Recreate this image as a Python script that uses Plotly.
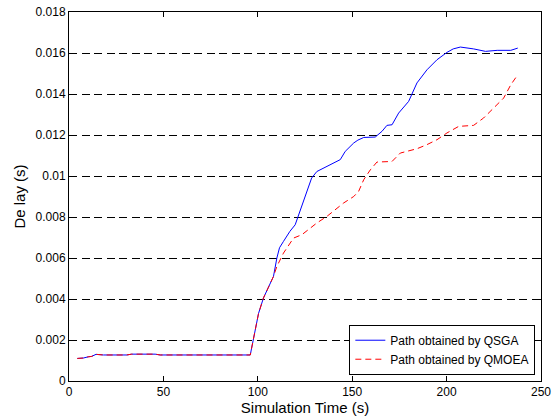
import plotly.graph_objects as go

# Delay of the path found by each algorithm over the simulation run
qsga_time = [4.4, 7.6, 10.2, 12.0, 14.3, 18.2, 30.6, 33.2, 45.6, 48.3, 96.0,
             100.4, 103.0, 108.3, 110.1, 111.5, 113.6, 117.0, 119.8, 122.5,
             126.0, 128.5, 131.3, 134.0, 138.4, 143.7, 146.3, 150.8, 153.0,
             156.1, 162.2, 165.8, 168.4, 171.1, 174.6, 179.9, 184.3, 189.6,
             194.9, 200.2, 203.5, 207.3, 214.3, 220.6, 226.8, 234.0, 237.7]
qsga_delay = [0.00110, 0.00112, 0.00118, 0.00120, 0.00130, 0.00127, 0.00127,
              0.00131, 0.00131, 0.00127, 0.00127, 0.00330, 0.00405, 0.00510,
              0.00600, 0.00650, 0.00681, 0.00730, 0.00762, 0.00836, 0.00933,
              0.00990, 0.01022, 0.01035, 0.01055, 0.01080, 0.01120, 0.01161,
              0.01175, 0.01188, 0.01190, 0.01218, 0.01247, 0.01250, 0.01307,
              0.01364, 0.01454, 0.01518, 0.01567, 0.01603, 0.01620, 0.01629,
              0.01620, 0.01608, 0.01613, 0.01613, 0.01624]

qmoea_time = [4.4, 7.6, 10.2, 12.0, 14.3, 18.2, 30.6, 33.2, 45.6, 48.3, 96.0,
              100.4, 103.0, 108.3, 110.1, 113.6, 118.9, 123.4, 131.3, 136.6,
              145.4, 150.8, 153.4, 156.1, 159.6, 163.1, 171.1, 175.5, 184.3,
              189.6, 194.9, 200.2, 206.4, 214.3, 219.6, 224.9, 230.2, 234.0,
              237.7]
qmoea_delay = [0.00110, 0.00112, 0.00118, 0.00120, 0.00130, 0.00127, 0.00127,
               0.00131, 0.00131, 0.00127, 0.00127, 0.00330, 0.00405, 0.00510,
               0.00559, 0.00624, 0.00697, 0.00714, 0.00771, 0.00803, 0.00868,
               0.00900, 0.00925, 0.00982, 0.01030, 0.01068, 0.01071, 0.01112,
               0.01133, 0.01153, 0.01177, 0.01210, 0.01242, 0.01247, 0.01283,
               0.01332, 0.01380, 0.01445, 0.01494]

x_ticks = [0, 50, 100, 150, 200, 250]
y_ticks = [0, 0.002, 0.004, 0.006, 0.008, 0.01, 0.012, 0.014, 0.016, 0.018]
y_tick_text = ["0", "0.002", "0.004", "0.006", "0.008", "0.01", "0.012",
               "0.014", "0.016", "0.018"]

FONT = "Liberation Sans, Arial, sans-serif"

fig = go.Figure()
fig.add_trace(go.Scatter(
    x=qsga_time, y=qsga_delay, mode="lines",
    name="Path obtained by QSGA",
    line=dict(color="#0000ff", width=1),
))
fig.add_trace(go.Scatter(
    x=qmoea_time, y=qmoea_delay, mode="lines",
    name="Path obtained by QMOEA",
    line=dict(color="#ff0000", width=1, dash="6px,4px"),
))

axis_common = dict(
    showline=True, linecolor="black", linewidth=1, mirror="ticks",
    ticks="inside", ticklen=5, tickcolor="black", tickwidth=1,
    zeroline=False, automargin=False,
    tickfont=dict(family=FONT, size=12, color="black"),
)

fig.update_xaxes(
    range=[0, 250], tickvals=x_ticks, showgrid=False,
    title=dict(text="Simulation Time (s)", standoff=2,
               font=dict(family=FONT, size=15, color="black")),
    **axis_common,
)
fig.update_yaxes(
    range=[0, 0.018], tickvals=y_ticks, ticktext=y_tick_text,
    showgrid=True, gridcolor="black", gridwidth=1, griddash="8px,4.5px",
    title=dict(text="De lay (s)", standoff=6,
               font=dict(family=FONT, size=15, color="black")),
    **axis_common,
)

fig.update_layout(
    width=555, height=416,
    margin=dict(l=69, r=14, t=12, b=35),
    paper_bgcolor="white", plot_bgcolor="white",
    font=dict(family=FONT, size=12, color="black"),
    showlegend=True,
    legend=dict(
        x=0.988, y=0.017, xanchor="right", yanchor="bottom",
        bgcolor="white", bordercolor="black", borderwidth=1,
        font=dict(family=FONT, size=12, color="black"),
        tracegroupgap=0, itemwidth=30,
    ),
)

fig.write_html("out.html")
